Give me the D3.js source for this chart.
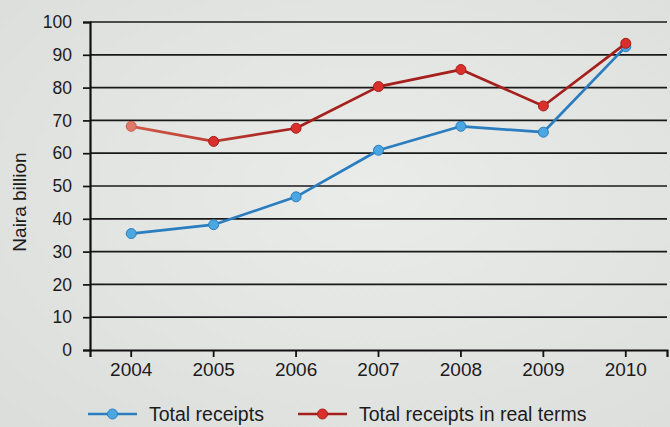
<!DOCTYPE html>
<html>
<head>
<meta charset="utf-8">
<script src="https://cdn.jsdelivr.net/npm/d3@7"></script>
<style>
  html, body { margin: 0; padding: 0; background: #e5e7e4; }
  svg { display: block; }
  text { font-family: "Liberation Sans", Arial, sans-serif; fill: #1c1c1c; }
</style>
</head>
<body>
<svg id="chart" width="670" height="427"></svg>
<script>
// Receipts in Naira billion, 2004–2010
const years = ["2004", "2005", "2006", "2007", "2008", "2009", "2010"];
const totalReceipts = [35.5, 38.2, 46.7, 60.9, 68.2, 66.4, 92.5];
const realTermsReceipts = [68.2, 63.6, 67.6, 80.3, 85.5, 74.4, 93.5];
const yTicks = [0, 10, 20, 30, 40, 50, 60, 70, 80, 90, 100];
const seriesNames = ["Total receipts", "Total receipts in real terms"];

const svg = d3.select("#chart");
const W = 670, H = 427;
const plotLeft = 90, plotRight = 667, plotTop = 22, plotBottom = 350;

// soft paper-like background
const defs = svg.append("defs");
const bg = defs.append("radialGradient").attr("id", "bg")
  .attr("cx", "55%").attr("cy", "45%").attr("r", "75%");
bg.append("stop").attr("offset", "0%").attr("stop-color", "#eaece9");
bg.append("stop").attr("offset", "100%").attr("stop-color", "#dcdedc");
svg.append("rect").attr("width", W).attr("height", H).attr("fill", "url(#bg)");

const x = d3.scaleBand().domain(years).range([plotLeft, plotRight]);
const y = d3.scaleLinear().domain([0, 100]).range([plotBottom, plotTop]);
const cx = d => x(d) + x.bandwidth() / 2;

// the red line fades lighter toward the left edge
const redGrad = defs.append("linearGradient").attr("id", "redFade")
  .attr("gradientUnits", "userSpaceOnUse")
  .attr("x1", cx(years[0])).attr("x2", cx(years[2])).attr("y1", 0).attr("y2", 0);
redGrad.append("stop").attr("offset", "0%").attr("stop-color", "#d05a48");
redGrad.append("stop").attr("offset", "100%").attr("stop-color", "#a51f1c");

// horizontal gridlines
svg.append("g").selectAll("line").data(yTicks.filter(t => t > 0)).join("line")
  .attr("x1", plotLeft).attr("x2", plotRight)
  .attr("y1", d => y(d)).attr("y2", d => y(d))
  .attr("stroke", "#1a1a1a").attr("stroke-width", 1.7);

// y axis
const yAxis = svg.append("g").attr("transform", `translate(${plotLeft},0)`)
  .call(d3.axisLeft(y).tickValues(yTicks).tickSize(7).tickPadding(11).tickFormat(d3.format("d")));
yAxis.select(".domain").attr("stroke", "#111").attr("stroke-width", 2.2);
yAxis.selectAll(".tick line").attr("stroke", "#111").attr("stroke-width", 1.7);
yAxis.selectAll("text").style("font-size", "17.5px").attr("fill", "#1c1c1c");

// x axis
const xAxis = svg.append("g").attr("transform", `translate(0,${plotBottom})`)
  .call(d3.axisBottom(x).tickSizeInner(7).tickSizeOuter(7).tickPadding(6));
xAxis.select(".domain").attr("stroke", "#111").attr("stroke-width", 2.2);
xAxis.selectAll(".tick line").attr("stroke", "#111").attr("stroke-width", 1.8);
xAxis.selectAll("text").style("font-size", "19px").attr("fill", "#1c1c1c");

// y axis title
svg.append("text")
  .attr("transform", `translate(26,202) rotate(-90)`)
  .attr("text-anchor", "middle")
  .style("font-size", "19px")
  .text("Naira billion");

const line = d3.line().x((d, i) => cx(years[i])).y(d => y(d));

const series = [
  { name: seriesNames[0], values: totalReceipts, stroke: "#2a7dbf", lineStroke: "#2a7dbf", fill: "#4aa7e0" },
  { name: seriesNames[1], values: realTermsReceipts, stroke: "#a51f1c", lineStroke: "url(#redFade)", fill: "#d9302b" }
];

series.forEach(s => {
  const g = svg.append("g");
  g.append("path").datum(s.values)
    .attr("d", line)
    .attr("fill", "none")
    .attr("stroke", s.lineStroke)
    .attr("stroke-width", 2.7)
    .attr("stroke-linejoin", "round");
  g.selectAll("circle").data(s.values).join("circle")
    .attr("cx", (d, i) => cx(years[i]))
    .attr("cy", d => y(d))
    .attr("r", 5)
    .attr("fill", (d, i) => (s === series[1] && i === 0) ? "#e07a68" : s.fill)
    .attr("stroke", (d, i) => (s === series[1] && i === 0) ? "#c85a4a" : s.stroke)
    .attr("stroke-width", 1);
});

// legend
const legendItems = [
  { x: 88, ...series[0] },
  { x: 298, ...series[1] }
];
const lg = svg.append("g").attr("transform", "translate(0,414)");
legendItems.forEach(item => {
  lg.append("line").attr("x1", item.x).attr("x2", item.x + 49)
    .attr("y1", 0).attr("y2", 0)
    .attr("stroke", item.stroke).attr("stroke-width", 2.7);
  lg.append("circle").attr("cx", item.x + 24.5).attr("cy", 0).attr("r", 5)
    .attr("fill", item.fill).attr("stroke", item.stroke).attr("stroke-width", 1);
  lg.append("text").attr("x", item.x + 61).attr("y", 0)
    .attr("dy", "0.36em")
    .style("font-size", "19.5px")
    .text(item.name);
});
</script>
</body>
</html>
